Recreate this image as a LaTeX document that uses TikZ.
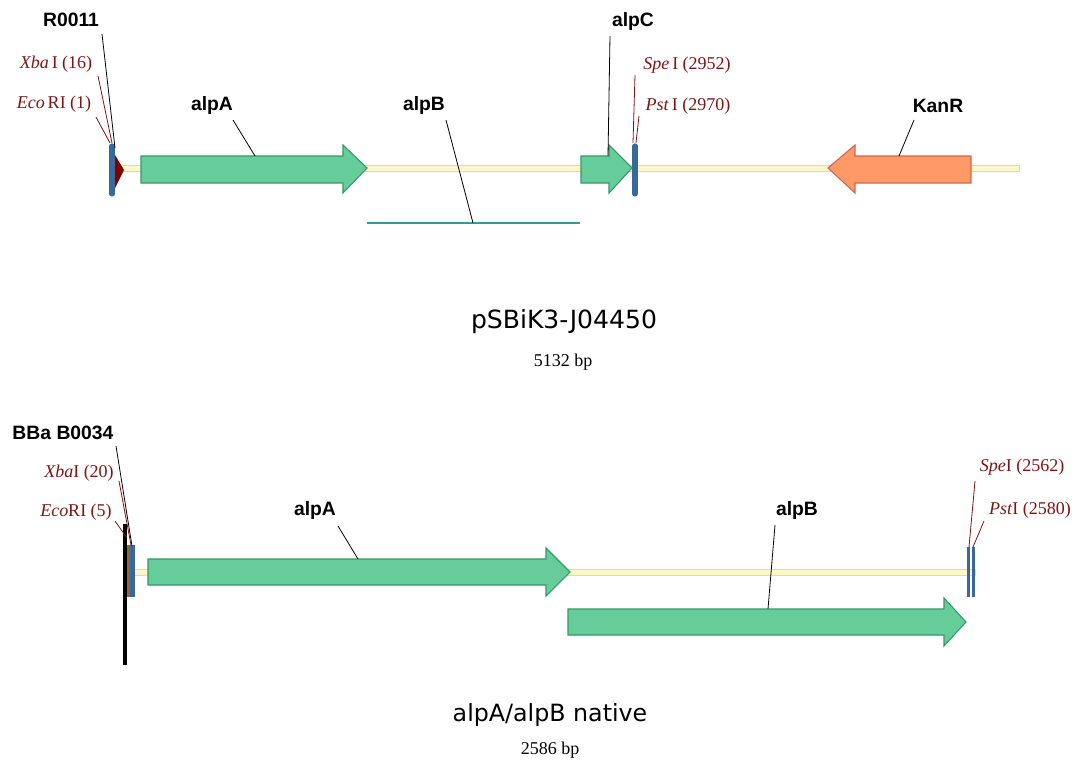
\documentclass[tikz,border=0pt]{standalone}
\usepackage{fontspec}
\setmainfont{Liberation Serif}
\newfontfamily\arialfont{Liberation Sans}
\newfontfamily\verdanafont{DejaVu Sans}
\definecolor{bbfill}{RGB}{250,248,200}
\definecolor{bbdraw}{RGB}{225,222,160}
\definecolor{gfill}{RGB}{102,204,153}
\definecolor{gdraw}{RGB}{51,153,102}
\definecolor{ofill}{RGB}{255,153,102}
\definecolor{odraw}{RGB}{204,102,85}
\definecolor{barblue}{RGB}{58,104,152}
\definecolor{rbs}{RGB}{128,0,0}
\definecolor{enz}{RGB}{128,20,20}
\definecolor{tealline}{RGB}{51,153,153}
\definecolor{rbsbrown}{RGB}{150,100,60}
\tikzset{
  backbone/.style={fill=bbfill,draw=bbdraw,line width=0.6pt},
  gene/.style={fill=gfill,draw=gdraw,line width=0.8pt},
  kan/.style={fill=ofill,draw=odraw,line width=0.8pt},
  sitebar/.style={draw=barblue,line width=3.8pt,line cap=round},
  thinbar/.style={draw=barblue,line width=2.4pt},
  featlabel/.style={font=\arialfont\bfseries\fontsize{14.5}{16}\selectfont,inner sep=1pt},
  enzlabel/.style={font=\fontsize{13.5}{15}\selectfont,text=enz,inner sep=1pt},
  leader/.style={draw=black,line width=0.6pt},
  enzleader/.style={draw=enz,line width=0.6pt},
  titlelabel/.style={font=\verdanafont\fontsize{17.8}{20}\selectfont,inner sep=0pt},
  sizelabel/.style={font=\fontsize{13.5}{15}\selectfont,inner sep=0pt}
}
\begin{document}
\begin{tikzpicture}[x=0.75pt,y=-0.75pt]
\useasboundingbox (0,0) rectangle (1082,760);
% ================= top map =================
\path[backbone] (113,165) rectangle (1019,171);
% alpA
\path[gene] (141,156) -- (343,156) -- (343,145) -- (367,168) -- (343,193) -- (343,183) -- (141,183) -- cycle;
% alpC
\path[gene] (581,156) -- (609,156) -- (609,145) -- (632,168) -- (609,193) -- (609,183) -- (581,183) -- cycle;
% KanR
\path[kan] (971,156) -- (855,156) -- (855,145) -- (828,168) -- (855,193) -- (855,183) -- (971,183) -- cycle;
% alpB (line feature)
\draw[draw=tealline,line width=1pt] (367,223) -- (580,223);
% R0011 triangle
\fill[rbs] (115,155) -- (124,170) -- (115,188) -- cycle;
% restriction site bars
\draw[sitebar] (112,146) -- (112,194);
\draw[sitebar] (635,146) -- (635,194);
% feature anchors
\coordinate (r0011p) at (115,148);
\coordinate (xba1p) at (112,143);
\coordinate (eco1p) at (110,143);
\coordinate (alpA1p) at (255,156);
\coordinate (alpB1p) at (473,223);
\coordinate (alpC1p) at (608,156);
\coordinate (spe1p) at (633,143);
\coordinate (pst1p) at (636,143);
\coordinate (kan1p) at (899,156);
% labels
\node[featlabel] (r0011) at (71,20) {R0011};
\node[enzlabel] (xba1) at (56,64) {\textit{Xba}\,I (16)};
\node[enzlabel] (eco1) at (54,104) {\textit{Eco}\,RI (1)};
\node[featlabel] (alpA1) at (212,106) {alpA};
\node[featlabel] (alpB1) at (424,106) {alpB};
\node[featlabel] (alpC1) at (633,22) {alpC};
\node[enzlabel] (spe1) at (687,65) {\textit{Spe}\,I (2952)};
\node[enzlabel] (pst1) at (688,106) {\textit{Pst}\,I (2970)};
\node[featlabel] (kan1) at (938,106) {KanR};
% leaders
\draw[leader] (102,34) -- (r0011p);
\draw[enzleader] (98,76) -- (xba1p);
\draw[enzleader] (96,117) -- (eco1p);
\draw[leader] (233,120) -- (alpA1p);
\draw[leader] (446,120) -- (alpB1p);
\draw[leader] (610,36) -- (alpC1p);
\draw[enzleader] (635,75) -- (spe1p);
\draw[enzleader] (639,116) -- (pst1p);
\draw[leader] (914,120) -- (kan1p);
\node[titlelabel,font=\verdanafont\fontsize{18.8}{21}\selectfont] (title1) at (564,322) {pSBiK3-J04450};
\node[sizelabel] (size1) at (563,362) {5132 bp};
% ================= bottom map =================
\path[backbone] (133,569) rectangle (975,575);
% alpA
\path[gene] (148,559) -- (546,559) -- (546,548) -- (570,572) -- (546,596) -- (546,585) -- (148,585) -- cycle;
% alpB
\path[gene] (568,609) -- (944,609) -- (944,598) -- (966,622) -- (944,646) -- (944,635) -- (568,635) -- cycle;
% B0034 black bar and site bars
\draw[black,line width=3pt] (125,524) -- (125,665);
\fill[rbsbrown] (127,545) rectangle (129.5,597);
\fill[barblue] (129.5,545) rectangle (135,597);
\draw[thinbar] (968.5,547) -- (968.5,597);
\draw[thinbar] (973.5,547) -- (973.5,597);
% anchors
\coordinate (b0034p) at (132,546);
\coordinate (xba2p) at (131,545);
\coordinate (eco2p) at (127,538);
\coordinate (alpA2p) at (358,559);
\coordinate (alpB2p) at (768,609);
\coordinate (spe2p) at (969,547);
\coordinate (pst2p) at (973,547);
% labels
\node[featlabel] (b0034) at (63,433) {BBa B0034};
\node[enzlabel] (xba2) at (79,473) {\textit{Xba}I (20)};
\node[enzlabel] (eco2) at (76,512) {\textit{Eco}RI (5)};
\node[featlabel] (alpA2) at (315,510) {alpA};
\node[featlabel] (alpB2) at (797,510) {alpB};
\node[enzlabel] (spe2) at (1022,467) {\textit{Spe}I (2562)};
\node[enzlabel] (pst2) at (1030,510) {\textit{Pst}I (2580)};
% leaders
\draw[leader] (116,446) -- (b0034p);
\draw[enzleader] (119,481) -- (xba2p);
\draw[enzleader] (115,521) -- (eco2p);
\draw[leader] (338,526) -- (alpA2p);
\draw[leader] (775,525) -- (alpB2p);
\draw[enzleader] (975,481) -- (spe2p);
\draw[enzleader] (984,521) -- (pst2p);
\node[titlelabel] (title2) at (550,715) {alpA/alpB native};
\node[sizelabel] (size2) at (550,750) {2586 bp};
\end{tikzpicture}
\end{document}
